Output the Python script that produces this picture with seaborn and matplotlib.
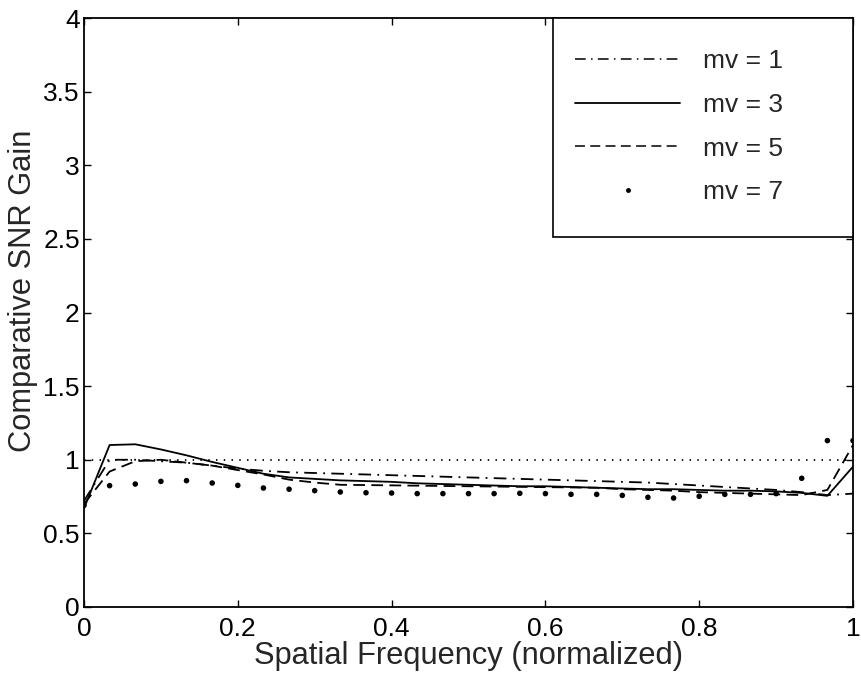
import matplotlib
matplotlib.use("Agg")
import matplotlib.pyplot as plt
import seaborn as sns
import pandas as pd
from matplotlib.lines import Line2D
from matplotlib.patches import Rectangle

freq = [0.0, 0.0333, 0.0667, 0.1, 0.1333, 0.1667, 0.2, 0.2333, 0.2667, 0.3,
        0.3333, 0.3667, 0.4, 0.4333, 0.4667, 0.5, 0.5333, 0.5667, 0.6, 0.6333,
        0.6667, 0.7, 0.7333, 0.7667, 0.8, 0.8333, 0.8667, 0.9, 0.9333, 0.9667, 1.0]

mv1 = [0.72, 1.00, 1.00, 0.99, 0.98, 0.96, 0.94, 0.925, 0.915, 0.91,
       0.905, 0.90, 0.895, 0.89, 0.885, 0.88, 0.875, 0.87, 0.865, 0.86,
       0.855, 0.85, 0.845, 0.835, 0.825, 0.815, 0.805, 0.795, 0.78, 0.76, 0.77]
mv3 = [0.67, 1.10, 1.105, 1.07, 1.03, 0.985, 0.945, 0.905, 0.88, 0.87,
       0.86, 0.855, 0.85, 0.84, 0.835, 0.83, 0.825, 0.82, 0.82, 0.815,
       0.81, 0.805, 0.80, 0.80, 0.795, 0.79, 0.79, 0.785, 0.775, 0.755, 0.953]
mv5 = [0.70, 0.92, 0.99, 1.00, 0.98, 0.96, 0.93, 0.90, 0.865, 0.845,
       0.83, 0.828, 0.826, 0.824, 0.822, 0.82, 0.818, 0.816, 0.814, 0.812,
       0.81, 0.80, 0.795, 0.79, 0.78, 0.775, 0.77, 0.765, 0.76, 0.795, 1.10]
mv7 = [0.69, 0.824, 0.835, 0.853, 0.858, 0.842, 0.826, 0.808, 0.80, 0.79,
       0.781, 0.776, 0.774, 0.77, 0.77, 0.77, 0.77, 0.772, 0.77, 0.765,
       0.765, 0.758, 0.745, 0.74, 0.752, 0.765, 0.765, 0.77, 0.874, 1.13, 1.13]

labels = ["mv = 1", "mv = 3", "mv = 5", "mv = 7"]
reference = 1.0
xticks = [0, 0.2, 0.4, 0.6, 0.8, 1]
xticklabels = ["0", "0.2", "0.4", "0.6", "0.8", "1"]
yticks = [0, 0.5, 1, 1.5, 2, 2.5, 3, 3.5, 4]
yticklabels = ["0", "0.5", "1", "1.5", "2", "2.5", "3", "3.5", "4"]

sns.set_style("white")
plt.rcParams["font.family"] = ["Liberation Sans", "DejaVu Sans"]

TICK_FS = 19
LABEL_FS = 22.2
LEG_FS = 19

W, H = 861, 675
AX_L, AX_R, AX_T, AX_B = 84, 853, 18, 607

fig = plt.figure(figsize=(W / 100, H / 100), dpi=100)
ax = fig.add_axes([AX_L / W, (H - AX_B) / H, (AX_R - AX_L) / W, (AX_B - AX_T) / H])


def fx(px):
    return (px - AX_L) / (AX_R - AX_L)


def fy(py):
    return (AX_B - py) / (AX_B - AX_T)


df = pd.DataFrame({"freq": freq, "mv1": mv1, "mv3": mv3, "mv5": mv5, "mv7": mv7})

lw = 1.3
dashdot = (7, 3.5, 1, 3.5)
dashed = (6.5, 3.5)
ax.axhline(reference, color="black", lw=1.3, dashes=(0.8, 3.5), zorder=1)
sns.lineplot(data=df, x="freq", y="mv1", ax=ax, color="black", lw=lw, legend=False)
ax.lines[-1].set_dashes(dashdot)
sns.lineplot(data=df, x="freq", y="mv3", ax=ax, color="black", lw=lw, legend=False)
sns.lineplot(data=df, x="freq", y="mv5", ax=ax, color="black", lw=lw, legend=False)
ax.lines[-1].set_dashes(dashed)
sns.scatterplot(data=df, x="freq", y="mv7", ax=ax, color="black", s=16,
                edgecolor="none", legend=False)

ax.set_xlim(0, 1)
ax.set_ylim(0, 4)
ax.set_xticks(xticks)
ax.set_xticklabels(xticklabels)
ax.set_yticks(yticks)
ax.set_yticklabels(yticklabels)
ax.tick_params(direction="in", length=5, width=1, top=True, right=True,
               bottom=True, left=True, labelsize=TICK_FS, colors="black")
ax.tick_params(axis="x", pad=7)
ax.tick_params(axis="y", pad=3)
for sp in ax.spines.values():
    sp.set_color("black")
    sp.set_linewidth(1.3)
    sp.set_visible(True)

ax.set_xlabel("Spatial Frequency (normalized)", fontsize=LABEL_FS, labelpad=0)
ax.set_ylabel("Comparative SNR Gain", fontsize=LABEL_FS)
ax.yaxis.set_label_coords(fx(38), fy(291))

# legend box
box = Rectangle((fx(553), fy(237)), 1 - fx(553), 1 - fy(237),
                transform=ax.transAxes, facecolor="white", edgecolor="black",
                lw=1.2, zorder=4, clip_on=False)
ax.add_patch(box)

handles = [
    Line2D([], [], color="black", lw=1.1, dashes=dashdot),
    Line2D([], [], color="black", lw=1.3),
    Line2D([], [], color="black", lw=1.1, dashes=dashed),
    Line2D([], [], color="black", lw=0, marker=".", markersize=5),
]
leg = ax.legend(handles, labels, loc="upper left",
                bbox_to_anchor=(fx(575), fy(49)),
                borderaxespad=0, frameon=False, fontsize=LEG_FS,
                handlelength=3.98, handletextpad=0.87, borderpad=0,
                labelspacing=0.75)
leg.set_zorder(5)

fig.savefig("out.png", dpi=100)
